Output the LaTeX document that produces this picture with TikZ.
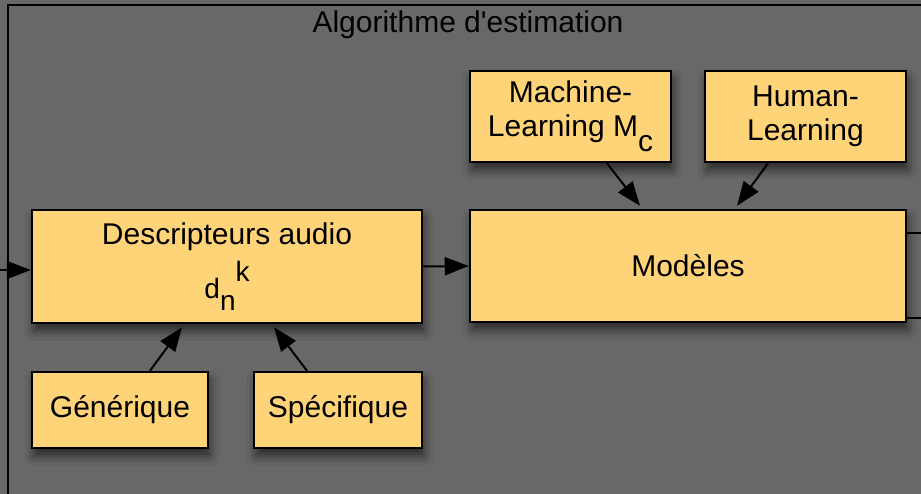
\documentclass[tikz,border=0pt]{standalone}
\usepackage{fontspec}
\setmainfont{Liberation Sans}[Ligatures=TeXOff]
\usetikzlibrary{arrows.meta,calc,shadows.blur}
\definecolor{bg}{HTML}{686868}
\definecolor{cantal}{HTML}{FFD479}
\tikzset{
  box/.style={draw=black, line width=2.5pt, fill=cantal, align=center, inner sep=0pt,
    font=\fontsize{30}{34}\selectfont,
    blur shadow={shadow xshift=2pt, shadow yshift=-8pt, shadow blur radius=9pt, shadow opacity=60}},
  arr/.style={line width=2pt, -{Triangle[length=24pt,width=18pt]}},
  plain/.style={line width=2.5pt},
  lbl/.style={font=\fontsize{30}{34}\selectfont, inner sep=0pt}
}
\begin{document}
\begin{tikzpicture}[x=1pt,y=-1pt]
\useasboundingbox (0,0) rectangle (921,494);
\clip (0,0) rectangle (921,494);
\fill[bg] (-5,-5) rectangle (930,500);
% frame
\draw[plain] (940,5) -- (8,5) -- (8,510);
\node[lbl, anchor=base] (title) at (468,33) {Algorithme d'estimation};
% boxes
\node[box, minimum width=390pt, minimum height=113pt] (desc) at (227,266.5)
  {Descripteurs audio\\[10pt]{\fontsize{28}{32}\selectfont d\raisebox{-12pt}{n}\raisebox{17pt}{k}}};
\node[box, minimum width=176pt, minimum height=76pt] (gen) at (120,410) {Générique};
\node[box, minimum width=168pt, minimum height=76pt] (spec) at (338,410) {Spécifique};
\node[box, minimum width=436pt, minimum height=112pt] (mod) at (688,266) {Modèles};
\node[box, minimum width=201pt, minimum height=91pt] (ml) at (570.5,116.5)
  {Machine-\\Learning M\raisebox{-15pt}{c}};
\node[box, minimum width=201pt, minimum height=91pt] (hl) at (805.5,116.5)
  {Human-\\Learning};
% side lines of a box hidden behind
\coordinate (r1) at (940,233);
\coordinate (r2) at (940,318);
\draw[plain] (mod.east |- r1) -- (r1);
\draw[plain] (mod.east |- r2) -- (r2);
% arrows
\coordinate (inL) at (-5,270);
\draw[arr] (inL) -- (inL -| desc.west);
\draw[arr] (desc.east) -- (mod.west);
\draw[arr] ($(gen.north)+(30,0)$) -- ($(desc.south)+(-45,3)$);
\draw[arr] ($(spec.north)+(-31,0)$) -- ($(desc.south)+(47,3)$);
\draw[arr] ($(ml.south)+(36.5,0)$) -- ($(mod.north)+(-48,-3)$);
\draw[arr] ($(hl.south)+(-37.5,0)$) -- ($(mod.north)+(49,-3)$);
\end{tikzpicture}
\end{document}
